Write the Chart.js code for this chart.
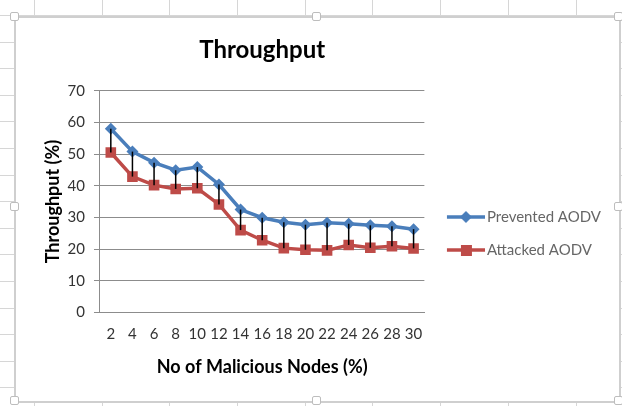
<!DOCTYPE html>
<html>
<head>
<meta charset="utf-8">
<script src="https://cdn.jsdelivr.net/npm/chart.js@4.4.0/dist/chart.umd.min.js"></script>
<style>
    html, body { margin: 0; padding: 0; }
    body {
        width: 622px; height: 406px; position: relative; overflow: hidden;
        background-color: #fff;
        background-image:
            repeating-linear-gradient(to right, transparent 0, transparent 34px, #d6d6d6 34px, #d6d6d6 35px, transparent 35px, transparent 67.7px),
            repeating-linear-gradient(to bottom, transparent 0, transparent 15px, #d6d6d6 15px, #d6d6d6 16px, transparent 16px, transparent 26.6px);
    }
    #frame {
        position: absolute; left: 14px; top: 16px; width: 603px; height: 383px;
        border: 2px solid #cfcfcf; background: #fff;
    }
    #chart-box { position: absolute; left: 0; top: 0; width: 603px; height: 383px; }
    .handle {
        position: absolute; width: 7px; height: 7px; background: #fff;
        border: 1px solid #bdbdbd; border-radius: 2px;
    }
</style>
</head>
<body>
<div id="frame">
    <div id="chart-box"><canvas id="throughput-chart"></canvas></div>
</div>
<div class="handle" style="left:10px;top:12px"></div>
<div class="handle" style="left:312px;top:12px"></div>
<div class="handle" style="left:614px;top:12px"></div>
<div class="handle" style="left:10px;top:202px"></div>
<div class="handle" style="left:614px;top:202px"></div>
<div class="handle" style="left:10px;top:396px"></div>
<div class="handle" style="left:312px;top:396px"></div>
<div class="handle" style="left:614px;top:396px"></div>
<script>
const maliciousNodes = ['2', '4', '6', '8', '10', '12', '14', '16', '18', '20', '22', '24', '26', '28', '30'];
const preventedAodv = [58.0, 50.8, 47.3, 44.9, 45.9, 40.4, 32.5, 29.9, 28.5, 27.7, 28.3, 28.0, 27.5, 27.2, 26.3];
const attackedAodv = [50.5, 42.9, 40.2, 39.0, 39.2, 34.1, 26.0, 22.8, 20.3, 19.8, 19.6, 21.3, 20.4, 20.9, 20.2];
const yTicks = [0, 10, 20, 30, 40, 50, 60, 70];

const blue = '#4a7ebb';
const red = '#be4b48';
const fontFamily = 'Lato, "Open Sans", sans-serif';

// legend sample: short line with the series marker in the middle,
// drawn at the right end of a wider transparent canvas so it sits next to the text
function legendIcon(color, shape) {
    const c = document.createElement('canvas');
    c.width = 48;
    c.height = 16;
    const ctx = c.getContext('2d');
    const x0 = 10;
    ctx.strokeStyle = color;
    ctx.lineWidth = 3.5;
    ctx.beginPath();
    ctx.moveTo(x0, 8);
    ctx.lineTo(x0 + 38, 8);
    ctx.stroke();
    ctx.fillStyle = color;
    ctx.beginPath();
    if (shape === 'diamond') {
        ctx.moveTo(x0 + 19, 2); ctx.lineTo(x0 + 25, 8); ctx.lineTo(x0 + 19, 14); ctx.lineTo(x0 + 13, 8);
    } else {
        ctx.rect(x0 + 14, 3, 11, 11);
    }
    ctx.fill();
    return c;
}

// black high-low lines between the two series
const dropLines = {
    id: 'dropLines',
    afterDatasetsDraw(chart) {
        const top = chart.getDatasetMeta(0).data;
        const bottom = chart.getDatasetMeta(1).data;
        const ctx = chart.ctx;
        ctx.save();
        ctx.strokeStyle = '#000';
        ctx.lineWidth = 1.5;
        for (let i = 0; i < top.length; i++) {
            ctx.beginPath();
            ctx.moveTo(top[i].x, top[i].y);
            ctx.lineTo(bottom[i].x, bottom[i].y);
            ctx.stroke();
        }
        ctx.restore();
    }
};

new Chart(document.getElementById('throughput-chart'), {
    type: 'line',
    data: {
        labels: maliciousNodes,
        datasets: [{
            label: 'Prevented AODV',
            data: preventedAodv,
            borderColor: blue,
            backgroundColor: blue,
            borderWidth: 3.5,
            pointStyle: 'rectRot',
            pointRadius: 6,
            pointBorderWidth: 0,
            tension: 0
        }, {
            label: 'Attacked AODV',
            data: attackedAodv,
            borderColor: red,
            backgroundColor: red,
            borderWidth: 3.5,
            pointStyle: 'rect',
            pointRadius: 7.5,
            pointBorderWidth: 0,
            tension: 0
        }]
    },
    options: {
        responsive: true,
        maintainAspectRatio: false,
        animation: false,
        layout: { padding: { left: 26, right: 8, top: 0, bottom: 21 } },
        plugins: {
            title: {
                display: true,
                fullSize: false,
                text: 'Throughput',
                color: '#000',
                font: { family: fontFamily, size: 24, weight: 'bold' },
                padding: { top: 18, bottom: 26 }
            },
            legend: {
                position: 'right',
                maxWidth: 260,
                // empty title only pushes the entries down to where Excel puts them
                title: { display: true, text: '', font: { size: 10 }, padding: { top: 57, bottom: 0 } },
                labels: {
                    usePointStyle: true,
                    pointStyleWidth: 37,
                    padding: 18,
                    color: '#222',
                    font: { family: fontFamily, size: 15 },
                    generateLabels: () => [
                        { text: 'Prevented AODV', pointStyle: legendIcon(blue, 'diamond'), fillStyle: blue, strokeStyle: blue, lineWidth: 0, datasetIndex: 0 },
                        { text: 'Attacked AODV', pointStyle: legendIcon(red, 'square'), fillStyle: red, strokeStyle: red, lineWidth: 0, datasetIndex: 1 }
                    ]
                }
            },
            tooltip: { enabled: false }
        },
        scales: {
            x: {
                offset: true,
                grid: { display: false, drawTicks: false },
                border: { color: '#8c8c8c', width: 1 },
                ticks: {
                    autoSkip: false, maxRotation: 0, padding: 13,
                    color: '#333', font: { family: fontFamily, size: 15 }
                },
                title: {
                    display: true,
                    text: 'No of Malicious Nodes (%)',
                    color: '#000',
                    font: { family: fontFamily, size: 18, weight: 'bold' },
                    padding: { top: 0, bottom: 2 }
                }
            },
            y: {
                min: 0,
                max: 70,
                afterBuildTicks: axis => { axis.ticks = yTicks.map(v => ({ value: v })); },
                grid: { color: '#8c8c8c', tickLength: 6 },
                border: { color: '#8c8c8c', width: 1 },
                ticks: {
                    padding: 9, color: '#333',
                    font: { family: fontFamily, size: 15 }
                },
                title: {
                    display: true,
                    text: 'Throughput (%)',
                    color: '#000',
                    font: { family: fontFamily, size: 18, weight: 'bold' },
                    padding: { top: 0, bottom: -5 }
                }
            }
        }
    },
    plugins: [dropLines]
});
</script>
</body>
</html>
